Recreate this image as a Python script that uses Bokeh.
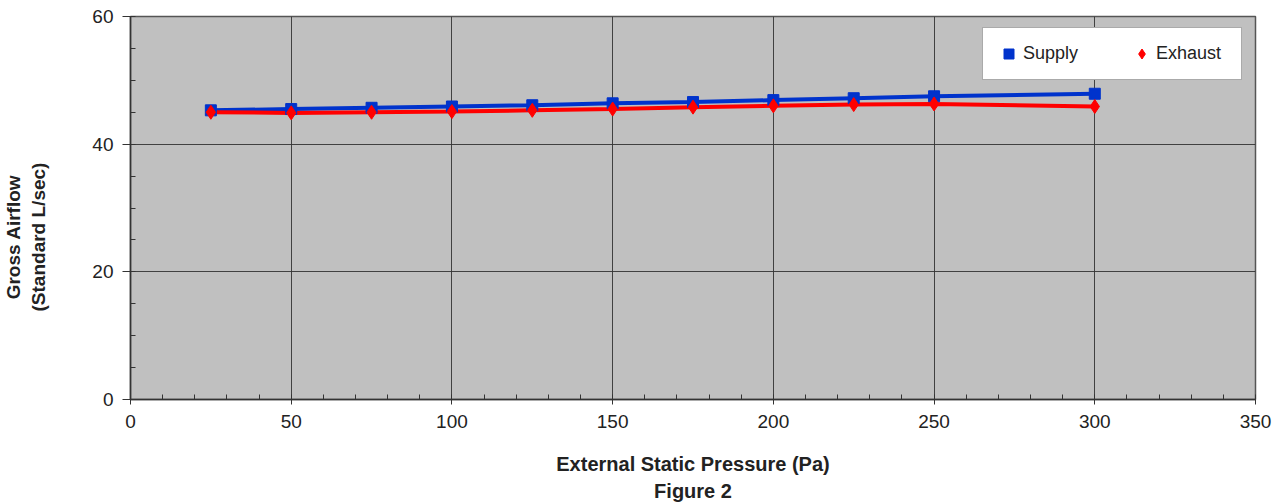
from bokeh.plotting import figure
from bokeh.embed import file_html
from bokeh.resources import INLINE
from bokeh.models import Range1d, Legend, LegendItem, SingleIntervalTicker, Title

pressure = [25, 50, 75, 100, 125, 150, 175, 200, 225, 250, 300]
supply = [45.3, 45.5, 45.7, 45.9, 46.1, 46.4, 46.6, 46.9, 47.2, 47.5, 47.9]
exhaust = [45.0, 44.9, 45.0, 45.1, 45.3, 45.5, 45.8, 46.0, 46.2, 46.3, 45.9]
y_title_lines = ["Gross Airflow", "(Standard L/sec)"]

FONT = "Liberation Sans"
TXT = "#222222"
PAD = "\u00a0" * 11  # shifts the rotated y title below the frame centre, as in the original

p = figure(width=1280, height=502, output_backend="svg", toolbar_location=None,
           x_range=Range1d(0, 350), y_range=Range1d(0, 60),
           min_border_left=130, min_border_right=25, min_border_top=16, min_border_bottom=103)
p.background_fill_color = "#C0C0C0"
p.border_fill_color = "white"
p.outline_line_color = "#555555"
p.outline_line_width = 1.5

p.xaxis.ticker = SingleIntervalTicker(interval=50, num_minor_ticks=5)
p.yaxis.ticker = SingleIntervalTicker(interval=20, num_minor_ticks=4)
for ax in (p.xaxis, p.yaxis):
    ax.axis_line_color = "#333333"
    ax.axis_line_width = 1.5
    ax.major_tick_line_color = "#333333"
    ax.minor_tick_line_color = "#333333"
    ax.major_tick_in = 0
    ax.minor_tick_in = 5
    ax.minor_tick_out = 0
    ax.major_label_text_font = FONT
    ax.major_label_text_font_size = "19px"
    ax.major_label_text_color = TXT
    ax.axis_label_text_font = FONT
    ax.axis_label_text_font_style = "bold"
    ax.axis_label_text_font_size = "20px"
    ax.axis_label_text_color = TXT
p.xaxis.major_tick_out = 5
p.yaxis.major_tick_out = 8
p.xaxis.major_label_standoff = 10
p.yaxis.major_label_standoff = 9
p.xaxis.axis_label = "External Static Pressure (Pa)"
p.xaxis.axis_label_standoff = 22
p.yaxis.axis_label = "\n".join(t + PAD for t in y_title_lines)
p.yaxis.axis_label_text_font_size = "19px"
p.yaxis.axis_label_standoff = 40

p.add_layout(Title(text="Figure 2", align="center", text_font=FONT, text_font_style="bold",
                   text_font_size="20px", text_color=TXT, standoff=0), "below")

p.grid.grid_line_color = "#333333"
p.grid.grid_line_width = 1
p.grid.grid_line_alpha = 0.9

p.line(pressure, supply, line_color="#0033CC", line_width=4)
p.line(pressure, exhaust, line_color="#FF0000", line_width=4)
rs = p.scatter(pressure, supply, marker="square", size=11, fill_color="#0033CC", line_color="#0033CC")
re = p.scatter(pressure, exhaust, marker="diamond", size=14, fill_color="#FF0000", line_color="#FF0000")

legend = Legend(items=[LegendItem(label="Supply", renderers=[rs]),
                       LegendItem(label="Exhaust", renderers=[re])],
                orientation="horizontal", location=(852, 319),
                label_text_font=FONT, label_text_font_size="18px", label_text_color=TXT,
                glyph_width=25, glyph_height=25, label_standoff=2, spacing=34,
                label_width=72, padding=13, margin=0,
                border_line_color="#555555", border_line_width=1.5,
                background_fill_color="white", background_fill_alpha=1)
p.add_layout(legend, "center")

open("out.html", "w").write(file_html(p, INLINE))
